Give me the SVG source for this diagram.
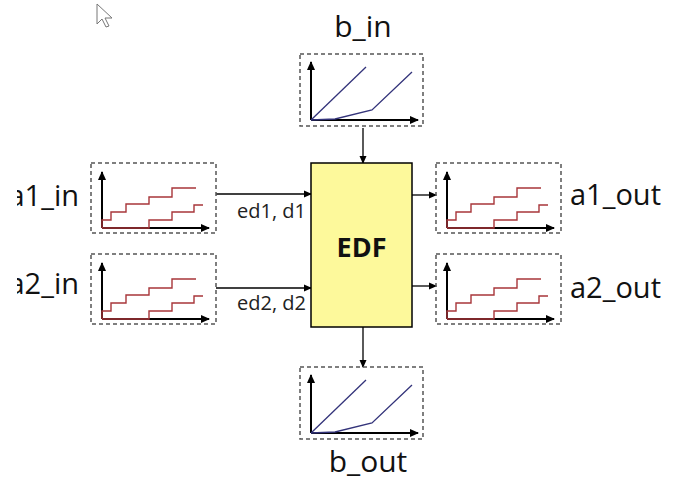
<svg xmlns="http://www.w3.org/2000/svg" width="675" height="480" viewBox="0 0 675 480" xmlns:xlink="http://www.w3.org/1999/xlink">
<style>
.frame{fill:none;stroke:#555;stroke-width:1.5;stroke-dasharray:4 3}
.axis{fill:none;stroke:#000;stroke-width:2}
.red{fill:none;stroke:#a8363a;stroke-width:1.4}
.blue{fill:none;stroke:#33337a;stroke-width:1.3}
.lbl{font-family:"Open Sans","Noto Sans",sans-serif;font-size:29px;fill:#111}
.blbl{font-family:"Open Sans","Noto Sans",sans-serif;font-size:30px;fill:#111}
.sm{font-family:"Open Sans","Noto Sans",sans-serif;font-size:20px;fill:#222}
.conn{stroke:#000;stroke-width:1.3;fill:none;marker-end:url(#ah)}
</style>
<defs>
<marker id="ah" markerWidth="8" markerHeight="8" refX="7" refY="4" orient="auto" markerUnits="userSpaceOnUse">
<path d="M0,0.5 L8,4 L0,7.5 Z" fill="#000"/>
</marker>
<marker id="ax" markerWidth="9" markerHeight="9" refX="8" refY="4.5" orient="auto" markerUnits="userSpaceOnUse">
<path d="M0,0.5 L9,4.5 L0,8.5 Z" fill="#000"/>
</marker>
<clipPath id="leftcut"><rect x="17" y="0" width="100" height="480"/></clipPath>
<g id="stair">
<rect class="frame" x="0" y="0" width="125" height="70"/>
<path class="axis" d="M11,65 V9" marker-end="url(#ax)"/>
<path class="axis" d="M11,65 H118" marker-end="url(#ax)"/>
<path class="red" d="M11,65 V57 H20 V49 H35 V41 H58 V34 H81 V25 H105"/>
<path class="red" d="M11,65 H58 V57 H81 V49 H103 V42 H112"/>
</g>
<g id="lin">
<rect class="frame" x="0" y="0" width="123" height="72"/>
<path class="axis" d="M11,66 V8" marker-end="url(#ax)"/>
<path class="axis" d="M11,66 H118" marker-end="url(#ax)"/>
<path class="blue" d="M11,66 L66,13"/>
<path class="blue" d="M11,66 L35,65 L72,56 L112,18"/>
</g>
</defs>
<rect width="675" height="480" fill="#fff"/>
<path d="M97,4 L97,24 L102,19 L106,27 L109,26 L105,18 L112,18 Z" fill="#fff" stroke="#777" stroke-width="1"/>
<g id="connectors">
<path class="conn" d="M363,128 V163"/>
<path class="conn" d="M216,194 H311"/>
<path class="conn" d="M216,288 H311"/>
<path class="conn" d="M412,195 H436"/>
<path class="conn" d="M412,286 H436"/>
<path class="conn" d="M363,327 V367"/>
<text class="sm" x="306" y="218" text-anchor="end">ed1, d1</text>
<text class="sm" x="306" y="310" text-anchor="end">ed2, d2</text>
</g>
<g id="edf">
<rect x="311" y="163" width="101" height="164" fill="#fdf99b" stroke="#000" stroke-width="1.5"/>
<text x="361.5" y="257" text-anchor="middle" font-family="'Open Sans','Noto Sans',sans-serif" font-weight="bold" font-size="27" fill="#111">EDF</text>
</g>
<g id="b_in">
<use xlink:href="#lin" x="300" y="54"/>
<text class="blbl" x="363" y="37" text-anchor="middle">b_in</text>
</g>
<g id="b_out">
<use xlink:href="#lin" x="300" y="367"/>
<text class="blbl" x="368" y="472" text-anchor="middle">b_out</text>
</g>
<g id="a1_in">
<use xlink:href="#stair" x="91" y="163"/>
<text class="lbl" x="79" y="206" text-anchor="end" clip-path="url(#leftcut)">a1_in</text>
</g>
<g id="a2_in">
<use xlink:href="#stair" x="91" y="254"/>
<text class="lbl" x="79" y="294" text-anchor="end" clip-path="url(#leftcut)">a2_in</text>
</g>
<g id="a1_out">
<use xlink:href="#stair" x="436" y="163"/>
<text class="lbl" x="570" y="205">a1_out</text>
</g>
<g id="a2_out">
<use xlink:href="#stair" x="436" y="254"/>
<text class="lbl" x="570" y="298">a2_out</text>
</g>
</svg>
